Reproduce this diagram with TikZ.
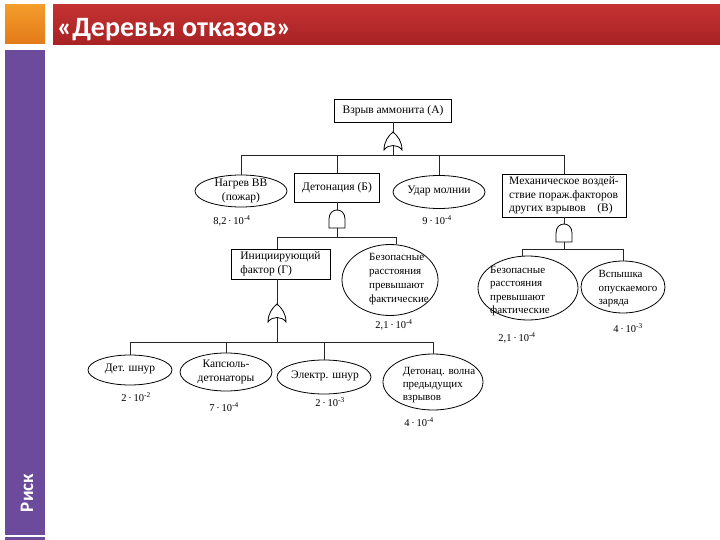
\documentclass[tikz,border=0pt]{standalone}
\usepackage{fontspec}
\setmainfont{Liberation Serif}
\newfontfamily\titlefont{Carlito}
\usetikzlibrary{shapes.geometric}
\definecolor{barred}{RGB}{196,50,50}
\definecolor{barreddark}{RGB}{168,34,36}
\definecolor{sqorange}{RGB}{244,156,44}
\definecolor{sqorangedark}{RGB}{226,122,24}
\definecolor{sidepurple}{RGB}{108,74,156}
\tikzset{
  box/.style={draw=black, line width=0.8pt, fill=white, inner sep=0pt, align=left,
              font=\fontsize{11.5}{13.5}\selectfont},
  oval/.style={ellipse, draw=black, line width=0.8pt, fill=white, inner sep=0pt},
  txt/.style={inner sep=0pt, align=left, font=\fontsize{11.5}{13.5}\selectfont},
  prob/.style={inner sep=0pt, font=\fontsize{10.5}{12}\selectfont},
  wire/.style={line width=0.8pt, draw=black!85},
  gate/.style={line width=0.8pt, draw=black, fill=white},
  orgate/.pic={\draw[gate] (-9,9) .. controls (-9,1) and (-5,-5) .. (0,-9)
                 .. controls (5,-5) and (9,1) .. (9,9)
                 .. controls (5,3) and (-5,3) .. (-9,9) -- cycle;},
  andgate/.pic={\draw[gate] (-8,9) -- (-8,0) .. controls (-8,-6) and (-4,-9) .. (0,-9)
                 .. controls (4,-9) and (8,-6) .. (8,0) -- (8,9) -- cycle;}
}
\newcommand{\pw}[2]{#1\,·\,10\textsuperscript{-#2}}
\begin{document}
\begin{tikzpicture}[x=1pt,y=-1pt]
\useasboundingbox (0,0) rectangle (720,540);
\fill[white] (0,0) rectangle (720,540);
% header
\shade[top color=sqorange, bottom color=sqorangedark] (5,5) rectangle (45,44);
\shade[top color=barred, bottom color=barreddark] (53,5) rectangle (720,45);
\fill[sidepurple] (5,50) rectangle (45,535);
\fill[sidepurple] (5,537) rectangle (45,540);
\node[anchor=base west, inner sep=0pt, text=white, font=\titlefont\bfseries\fontsize{28}{32}\selectfont]
  (title) at (57,37) {«Деревья отказов»};
\node[rotate=90, inner sep=0pt, text=white, font=\titlefont\bfseries\fontsize{19}{22}\selectfont]
  (risk) at (27,493) {Риск};

% level 0
\node[box, minimum width=117, minimum height=23, align=center] (top) at (393,110.5) {Взрыв аммонита (А)};
\coordinate (g1) at (393,141);
\coordinate (g1t) at (393,132);
\coordinate (g1b) at (393,145);
\coordinate (bar1) at (393,155);

% level 1
\node[oval, minimum width=92, minimum height=32] (nagrev) at (241,191) {};
\node[txt, align=center] (nagrevt) at (241,191) {Нагрев ВВ\\(пожар)};
\node[box, minimum width=85, minimum height=29] (det) at (337,187.5) {Детонация (Б)};
\node[oval, minimum width=92, minimum height=33] (udar) at (439,192) {};
\node[txt] (udart) at (439,191) {Удар молнии};
\node[box, minimum width=124, minimum height=43] (meh) at (564,195.5)
  {Механическое воздей-\\ствие пораж.факторов\\других взрывов\quad(В)};

\node[prob] (p1) at (232,221) {\pw{8,2}{4}};
\node[prob] (p2) at (437,220) {\pw{9}{4}};

\coordinate (g2) at (337,219);
\coordinate (g2t) at (337,210);
\coordinate (g2b) at (337,228);
\coordinate (bar2) at (337,237);

\coordinate (g3) at (564,233);
\coordinate (g3t) at (564,224);
\coordinate (g3b) at (564,242);
\coordinate (bar3) at (564,249);

% level 2
\node[box, minimum width=99, minimum height=30] (ini) at (280.5,264) {Инициирующий\\фактор (Г)};
\node[oval, minimum width=96, minimum height=71] (bez1) at (390,280) {};
\node[txt, font=\fontsize{11}{14}\selectfont] (bez1t) at (399,279) {Безопасные\\расстояния\\превышают\\фактические};
\node[prob] (p3) at (394,325) {\pw{2,1}{4}};

\node[oval, minimum width=100, minimum height=64] (bez2) at (528,288) {};
\node[txt, font=\fontsize{11}{13.5}\selectfont] (bez2t) at (520,291) {Безопасные\\расстояния\\превышают\\фактические};
\node[prob] (p4) at (517,338) {\pw{2,1}{4}};

\node[oval, minimum width=84, minimum height=52] (vsp) at (623,287) {};
\node[txt, font=\fontsize{11}{13.5}\selectfont] (vspt) at (628,289) {Вспышка\\опускаемого\\заряда};
\node[prob] (p5) at (628,328) {\pw{4}{3}};

\coordinate (g4) at (277,313);
\coordinate (g4t) at (277,304);
\coordinate (g4b) at (277,317);
\coordinate (bar4) at (277,342);

% level 3
\node[oval, minimum width=84, minimum height=30] (shn) at (130,370) {};
\node[txt] (shnt) at (130,369) {Дет. шнур};
\node[prob] (p6) at (136,397) {\pw{2}{2}};

\node[oval, minimum width=92, minimum height=38] (kap) at (226,372) {};
\node[txt, align=center] (kapt) at (226,372) {Капсюль-\\детонаторы};
\node[prob] (p7) at (224,407) {\pw{7}{4}};

\node[oval, minimum width=94, minimum height=34] (el) at (324,377) {};
\node[txt] (elt) at (325,376) {Электр. шнур};
\node[prob] (p8) at (330,402) {\pw{2}{3}};

\node[oval, minimum width=100, minimum height=56] (dv) at (433,382) {};
\node[txt, font=\fontsize{11}{13}\selectfont] (dvt) at (439,385) {Детонац. волна\\предыдущих\\взрывов};
\node[prob] (p9) at (419,422) {\pw{4}{4}};

% connectors
\draw[wire] (top.south) -- (g1t);
\draw[wire] (g1b) -- (bar1);
\draw[wire] (bar1) -| (nagrev);
\draw[wire] (bar1) -| (det);
\draw[wire] (bar1) -| (udar);
\draw[wire] (bar1) -| (meh);

\draw[wire] (det.south) -- (g2t);
\draw[wire] (g2b) -- (bar2);
\draw[wire] (bar2) -| (g4 |- ini.north);
\draw[wire] (bar2) -| (bez1.80);

\draw[wire] (meh.south) -- (g3t);
\draw[wire] (g3b) -- (bar3);
\draw[wire] (bar3) -| (bez2.100);
\draw[wire] (bar3) -| (vsp);

\draw[wire] (g4 |- ini.south) -- (g4t);
\draw[wire] (g4b) -- (bar4);
\draw[wire] (bar4) -| (shn);
\draw[wire] (bar4) -| (kap);
\draw[wire] (bar4) -| (el);
\draw[wire] (bar4) -| (dv);

% gates
\pic at (g1) {orgate};
\pic at (g2) {andgate};
\pic at (g3) {andgate};
\pic at (g4) {orgate};
\end{tikzpicture}
\end{document}
